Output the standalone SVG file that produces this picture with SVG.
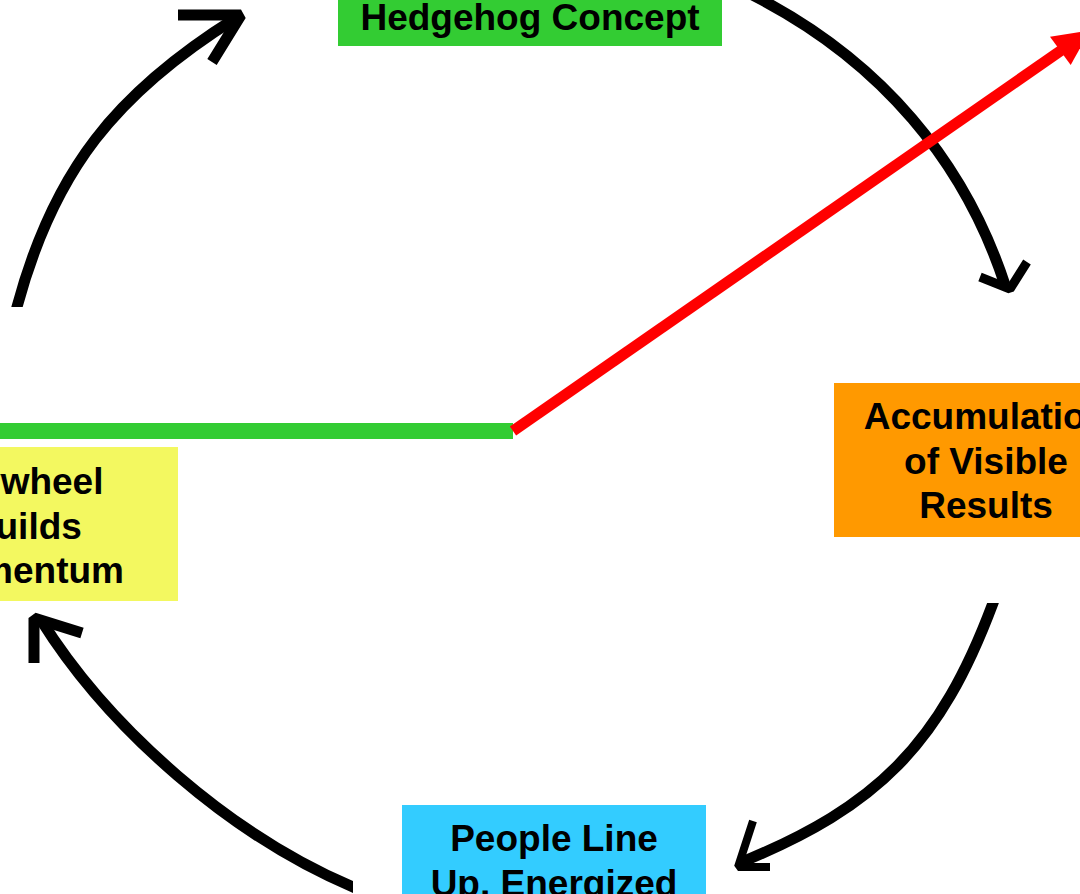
<svg xmlns="http://www.w3.org/2000/svg" width="1080" height="894" viewBox="0 0 1080 894">
  <style>
    .label { font-family: "Liberation Sans", Arial, sans-serif; font-weight: bold; font-size: 37px; fill: #000000; text-anchor: middle; }
    .shaft { fill: none; stroke: #000000; stroke-width: 11; stroke-linecap: butt; }
    .head { fill: none; stroke: #000000; stroke-linecap: butt; stroke-linejoin: bevel; }
  </style>
  <defs>
    <clipPath id="clipTopLeft"><rect x="-50" y="-50" width="1200" height="357"/></clipPath>
    <clipPath id="clipBottomRight"><rect x="-50" y="603" width="1200" height="400"/></clipPath>
    <clipPath id="clipBottomLeft"><rect x="-50" y="-50" width="403" height="1000"/></clipPath>
  </defs>

  <rect x="0" y="0" width="1080" height="894" fill="#ffffff"/>

  <!-- cycle arrows, the progress indicator and its baseline -->
  <g id="connectors">
    <!-- Flywheel -> Hedgehog -->
    <path class="shaft" clip-path="url(#clipTopLeft)" d="M14.4,316.7 L17,307 C53.6,170.3 116.4,92.7 236,18"/>
    <polyline class="head" stroke-width="11" points="178,15 241,15 212,62"/>

    <!-- Hedgehog -> Accumulation -->
    <path class="shaft" d="M748.8,-7 L762,0 C879.5,62.4 964,159.2 1005,285"/>
    <polyline class="head" stroke-width="9" points="980,277 1010,289 1027,262"/>

    <!-- Accumulation -> People -->
    <path class="shaft" clip-path="url(#clipBottomRight)" d="M997.9,589.8 L993,603 C940,745 877,806.5 742,862"/>
    <polyline class="head" stroke-width="8" points="753,821 738,867 770,867"/>

    <!-- People -> Flywheel -->
    <path class="shaft" clip-path="url(#clipBottomLeft)" d="M364,891.7 L353,887 C232,835.7 109.9,730.1 41,620"/>
    <polyline class="head" stroke-width="11" points="34,663 34,618 82,633"/>

    <!-- green baseline -->
    <line x1="-10" y1="431" x2="513" y2="431" stroke="#33CC33" stroke-width="16"/>

    <!-- red rising arrow -->
    <line x1="513" y1="431" x2="1061" y2="50.5" stroke="#FF0000" stroke-width="11"/>
    <polygon points="1050,36.7 1090,30.4 1070.7,65" fill="#FF0000"/>
  </g>

  <g id="node-hedgehog">
    <rect x="338" y="-108" width="384" height="154" fill="#33CC33"/>
    <text class="label" x="530" y="29.5">Hedgehog Concept</text>
  </g>

  <g id="node-accumulation">
    <rect x="834" y="383" width="304" height="154" fill="#FF9900"/>
    <text class="label" x="986" y="429">Accumulation</text>
    <text class="label" x="986" y="473.5">of Visible</text>
    <text class="label" x="986" y="518">Results</text>
  </g>

  <g id="node-people">
    <rect x="402" y="805" width="304" height="154" fill="#33CCFF"/>
    <text class="label" x="554" y="851">People Line</text>
    <text class="label" x="554" y="895.5">Up, Energized</text>
  </g>

  <g id="node-flywheel">
    <rect x="-126" y="447" width="304" height="154" fill="#F3F860"/>
    <text class="label" x="25.3" y="494">Flywheel</text>
    <text class="label" x="25.3" y="538.5">Builds</text>
    <text class="label" x="25.3" y="583">Momentum</text>
  </g>
</svg>
